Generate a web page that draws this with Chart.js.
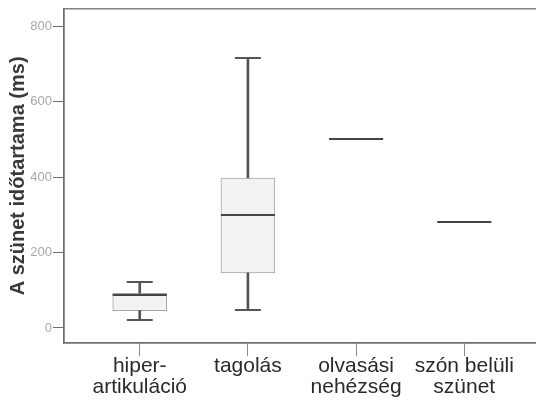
<!DOCTYPE html>
<html>
<head>
<meta charset="utf-8">
<script src="https://cdn.jsdelivr.net/npm/chart.js@4/dist/chart.umd.min.js"></script>
<style>
    html, body { margin: 0; padding: 0; background: #fff; overflow: hidden; }
    #wrap { width: 544px; height: 409px; }
</style>
</head>
<body>
<div id="wrap"><canvas id="boxChart"></canvas></div>
<script>
'use strict';

// category labels, one entry per line
let categorias = [['hiper-', 'artikuláció'], ['tagolás'], ['olvasási', 'nehézség'], ['szón belüli', 'szünet']];

// box plot values (ms)
let minimos = [20, 47, 501, 281];
let quartil1 = [46, 146, 501, 281];
let medianas = [87, 300, 501, 281];
let quartil3 = [92, 398, 501, 281];
let maximos = [121, 716, 501, 281];

let yTicks = [0, 200, 400, 600, 800];

let posicoes = categorias.map((c, i) => i + 1);

let boxData = posicoes.map((x, i) => ({ x: x, y: quartil1[i] === quartil3[i] ? null : [quartil1[i], quartil3[i]] }));
let whiskerLow = posicoes.map((x, i) => ({ x: x, y: minimos[i] === quartil1[i] ? null : [minimos[i], quartil1[i]] }));
let whiskerHigh = posicoes.map((x, i) => ({ x: x, y: maximos[i] === quartil3[i] ? null : [quartil3[i], maximos[i]] }));

let BOX_HALF = 0.25, CAP_HALF = 0.12;

// medians, whisker caps and the closed frame
let boxPlotLines = {
    id: 'boxPlotLines',
    afterDatasetsDraw: function (chart) {
        let ctx = chart.ctx, x = chart.scales.x, y = chart.scales.y, a = chart.chartArea;
        ctx.save();
        ctx.lineCap = 'butt';

        ctx.strokeStyle = '#555';
        ctx.lineWidth = 2;
        for (let i = 0; i < posicoes.length; i++) {
            if (minimos[i] === quartil1[i]) continue;
            [minimos[i], maximos[i]].forEach(function (v) {
                let py = Math.round(y.getPixelForValue(v));
                ctx.beginPath();
                ctx.moveTo(x.getPixelForValue(posicoes[i] - CAP_HALF), py);
                ctx.lineTo(x.getPixelForValue(posicoes[i] + CAP_HALF), py);
                ctx.stroke();
            });
        }

        ctx.strokeStyle = '#444';
        ctx.lineWidth = 2;
        for (let i = 0; i < posicoes.length; i++) {
            let py = Math.round(y.getPixelForValue(medianas[i]));
            ctx.beginPath();
            ctx.moveTo(x.getPixelForValue(posicoes[i] - BOX_HALF), py);
            ctx.lineTo(x.getPixelForValue(posicoes[i] + BOX_HALF), py);
            ctx.stroke();
        }

        ctx.strokeStyle = '#707070';
        ctx.lineWidth = 1.3;
        ctx.strokeRect(a.left, a.top, a.right - a.left, a.bottom - a.top);
        ctx.restore();
    }
};

let ctx = document.getElementById('boxChart').getContext('2d');

let boxChart = new Chart(ctx, {
    type: 'bar',
    data: {
        datasets: [
            {
                data: whiskerLow,
                backgroundColor: '#555',
                barThickness: 2,
                grouped: false
            },
            {
                data: whiskerHigh,
                backgroundColor: '#555',
                barThickness: 2,
                grouped: false
            },
            {
                data: boxData,
                backgroundColor: '#f2f2f2',
                borderColor: '#a5a5a5',
                borderWidth: 1,
                borderSkipped: false,
                barThickness: 54,
                grouped: false
            }
        ]
    },
    options: {
        responsive: true,
        maintainAspectRatio: false,
        animation: false,
        layout: { padding: { top: 6, right: 4, left: 0, bottom: 0 } },
        plugins: {
            legend: { display: false },
            tooltip: { enabled: false }
        },
        scales: {
            x: {
                type: 'linear',
                min: 0.3,
                max: 4.7,
                offset: false,
                afterBuildTicks: function (axis) {
                    axis.ticks = posicoes.map(v => ({ value: v }));
                },
                afterFit: function (axis) { axis.height = 66; },
                ticks: {
                    autoSkip: false,
                    maxRotation: 0,
                    padding: 0,
                    color: '#2a2a2a',
                    font: { family: 'Liberation Sans, Arial, sans-serif', size: 21, lineHeight: 0.98 },
                    callback: function (value) { return categorias[value - 1]; }
                },
                grid: {
                    offset: false,
                    drawOnChartArea: false,
                    tickLength: 13,
                    color: '#8a8a8a',
                    tickWidth: 1
                },
                border: { color: '#707070', width: 1.3 }
            },
            y: {
                min: -40,
                max: 847,
                afterBuildTicks: function (axis) {
                    axis.ticks = yTicks.map(v => ({ value: v }));
                },
                afterFit: function (axis) { axis.width = 64; },
                ticks: {
                    padding: 1,
                    color: '#a8a8a8',
                    font: { family: 'Liberation Sans, Arial, sans-serif', size: 13 }
                },
                grid: {
                    drawOnChartArea: false,
                    tickLength: 11,
                    color: '#707070',
                    tickWidth: 1
                },
                border: { color: '#707070', width: 1.3 },
                title: {
                    display: true,
                    text: 'A szünet időtartama (ms)',
                    color: '#3a3a3a',
                    padding: { top: 6, bottom: 0 },
                    font: { family: 'Liberation Sans, Arial, sans-serif', size: 20, weight: 'bold', lineHeight: 1.2 }
                }
            }
        }
    },
    plugins: [boxPlotLines]
});
</script>
</body>
</html>
